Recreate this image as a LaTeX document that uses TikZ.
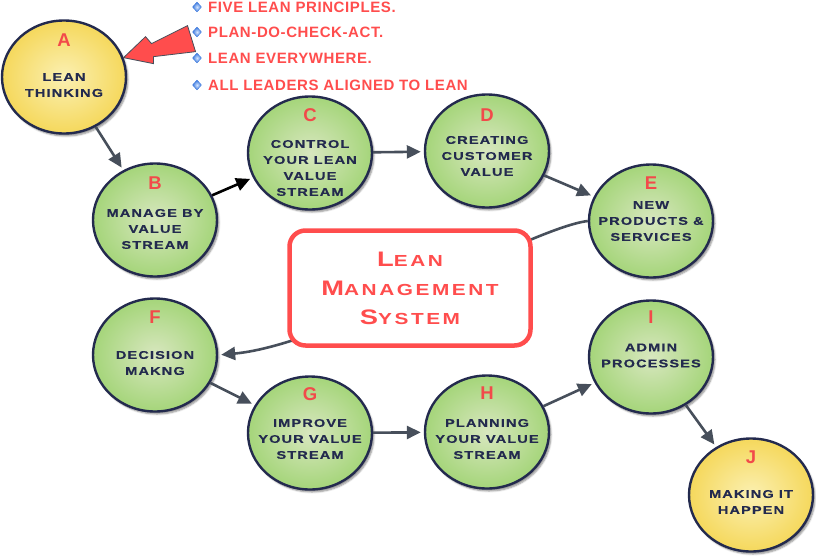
\documentclass[tikz,border=0pt]{standalone}
\usepackage{fontspec}
\usepackage{xcolor}
\usepackage{tikz}
\usetikzlibrary{shapes.geometric, arrows.meta, shadows.blur}
\newfontfamily\stagefont{Liberation Sans}[FakeStretch=1.3, LetterSpace=10, FakeBold=0.4]
\newfontfamily\titlefont{Liberation Sans}[FakeStretch=1.3, LetterSpace=16]
\newfontfamily\notefont{Liberation Sans}[LetterSpace=4]
\definecolor{navyink}{HTML}{232A4E}
\definecolor{redink}{HTML}{F24A4A}
\definecolor{boxred}{HTML}{FF4D4D}
\definecolor{leafin}{HTML}{D8E7BF}
\definecolor{leafout}{HTML}{A5D57A}
\definecolor{sunin}{HTML}{FBF0B2}
\definecolor{sunout}{HTML}{F5D85C}
\definecolor{slatearrow}{HTML}{474F5B}
\definecolor{gemblue}{HTML}{3A78DD}
\definecolor{gemlight}{HTML}{D4E5FF}
\newcommand{\bigsc}[2]{{\fontsize{21}{29}\selectfont#1}{\fontsize{16}{29}\selectfont#2}}
\tikzset{
  stage/.style={ellipse, minimum width=124pt, minimum height=113pt, inner sep=0pt,
                draw=navyink, line width=2.4pt, inner color=#1in, outer color=#1out,
                blur shadow={shadow xshift=2pt, shadow yshift=-2.5pt, shadow opacity=45, shadow blur steps=5}},
  stage/.default=leaf,
  ltr/.style={font=\notefont\bfseries\fontsize{18.5}{18}\selectfont, text=redink, inner sep=0pt},
  stagetxt/.style={align=center, text=navyink, inner sep=0pt,
                   font=\stagefont\bfseries\fontsize{11.2}{16}\selectfont},
  link/.style={-{Triangle[length=14pt, width=13pt]}, line width=2.6pt, color=#1, shorten >=3pt},
  link/.default=slatearrow,
  sysbox/.style={draw=boxred, line width=4.5pt, rounded corners=16pt, fill=white,
                 minimum width=241pt, minimum height=115pt, align=center, text=boxred,
                 font=\titlefont\bfseries\fontsize{16}{29}\selectfont},
  gem/.style={diamond, minimum width=9pt, minimum height=10pt, inner sep=0pt,
              draw=gemblue, line width=0.4pt, inner color=gemlight, outer color=gemblue},
  point/.style={font=\notefont\bfseries\fontsize{15}{15}\selectfont, text=boxred,
                anchor=base west, inner sep=0pt},
  bigarrow/.style={fill=boxred, draw=slatearrow, line width=0.8pt, line join=miter},
}
\begin{document}
\begin{tikzpicture}[x=1pt, y=-1pt]
  \useasboundingbox (0,0) rectangle (816,557);
  \node[stage=sun] (a) at (64,77) {};
  \node[ltr] (a-l) at ([yshift=37pt]a.center) {A};
  \node[stagetxt] (a-t) at ([yshift=-8pt]a.center) {LEAN\\THINKING};
  \node[stage] (b) at (155,220) {};
  \node[ltr] (b-l) at ([yshift=37pt]b.center) {B};
  \node[stagetxt] (b-t) at ([yshift=-9pt]b.center) {MANAGE BY\\VALUE\\STREAM};
  \node[stage] (c) at (310,153) {};
  \node[ltr] (c-l) at ([yshift=38pt]c.center) {C};
  \node[stagetxt] (c-t) at ([yshift=-15pt]c.center) {CONTROL\\YOUR LEAN\\VALUE\\STREAM};
  \node[stage] (d) at (487,151) {};
  \node[ltr] (d-l) at ([yshift=36pt]d.center) {D};
  \node[stagetxt] (d-t) at ([yshift=-5pt]d.center) {CREATING\\CUSTOMER\\VALUE};
  \node[stage] (e) at (651,221) {};
  \node[ltr] (e-l) at ([yshift=38pt]e.center) {E};
  \node[stagetxt] (e-t) at (e.center) {NEW\\PRODUCTS \&\\SERVICES};
  \node[stage] (f) at (155,355) {};
  \node[ltr] (f-l) at ([yshift=38pt]f.center) {F};
  \node[stagetxt] (f-t) at ([yshift=-8pt]f.center) {DECISION\\MAKNG};
  \node[stage] (g) at (310,433) {};
  \node[ltr] (g-l) at ([yshift=39pt]g.center) {G};
  \node[stagetxt] (g-t) at ([yshift=-6pt]g.center) {IMPROVE\\YOUR VALUE\\STREAM};
  \node[stage] (h) at (487,432) {};
  \node[ltr] (h-l) at ([yshift=39pt]h.center) {H};
  \node[stagetxt] (h-t) at ([yshift=-7pt]h.center) {PLANNING\\YOUR VALUE\\STREAM};
  \node[stage] (i) at (651,357) {};
  \node[ltr] (i-l) at ([yshift=40pt]i.center) {I};
  \node[stagetxt] (i-t) at ([yshift=1.5pt]i.center) {ADMIN\\PROCESSES};
  \node[stage=sun] (j) at (751,495) {};
  \node[ltr] (j-l) at ([yshift=38pt]j.center) {J};
  \node[stagetxt] (j-t) at ([yshift=-7pt]j.center) {MAKING IT\\HAPPEN};
  \draw[link] (e.west) .. controls (530,228) and (330,345) .. (f.east);
  \node[sysbox] (lms) at (410,288) {\bigsc{L}{EAN}\\\bigsc{M}{ANAGEMENT}\\\bigsc{S}{YSTEM}};
  \draw[link] (a) -- (b);
  \draw[link=black] (b) -- (c);
  \draw[link] (c) -- (d);
  \draw[link] (d) -- (e);
  \draw[link] (f) -- (g);
  \draw[link] (g) -- (h);
  \draw[link] (h) -- (i);
  \draw[link] (i) -- (j);
  \node[gem] (g1) at (197,7) {};
  \node[point] (p1) at (208,12.5) {FIVE LEAN PRINCIPLES.};
  \node[gem] (g2) at (197,32) {};
  \node[point] (p2) at (208,37.5) {PLAN-DO-CHECK-ACT.};
  \node[gem] (g3) at (197,58) {};
  \node[point] (p3) at (208,63.5) {LEAN EVERYWHERE.};
  \node[gem] (g4) at (197,85) {};
  \node[point] (p4) at (208,90.5) {ALL LEADERS ALIGNED TO LEAN};
  \draw[bigarrow] (a.18) -- ++(22,-21) -- ++(6,7) -- ++(36,-18) -- ++(8,26) -- ++(-42,5) -- ++(0,7) -- cycle;
\end{tikzpicture}
\end{document}
